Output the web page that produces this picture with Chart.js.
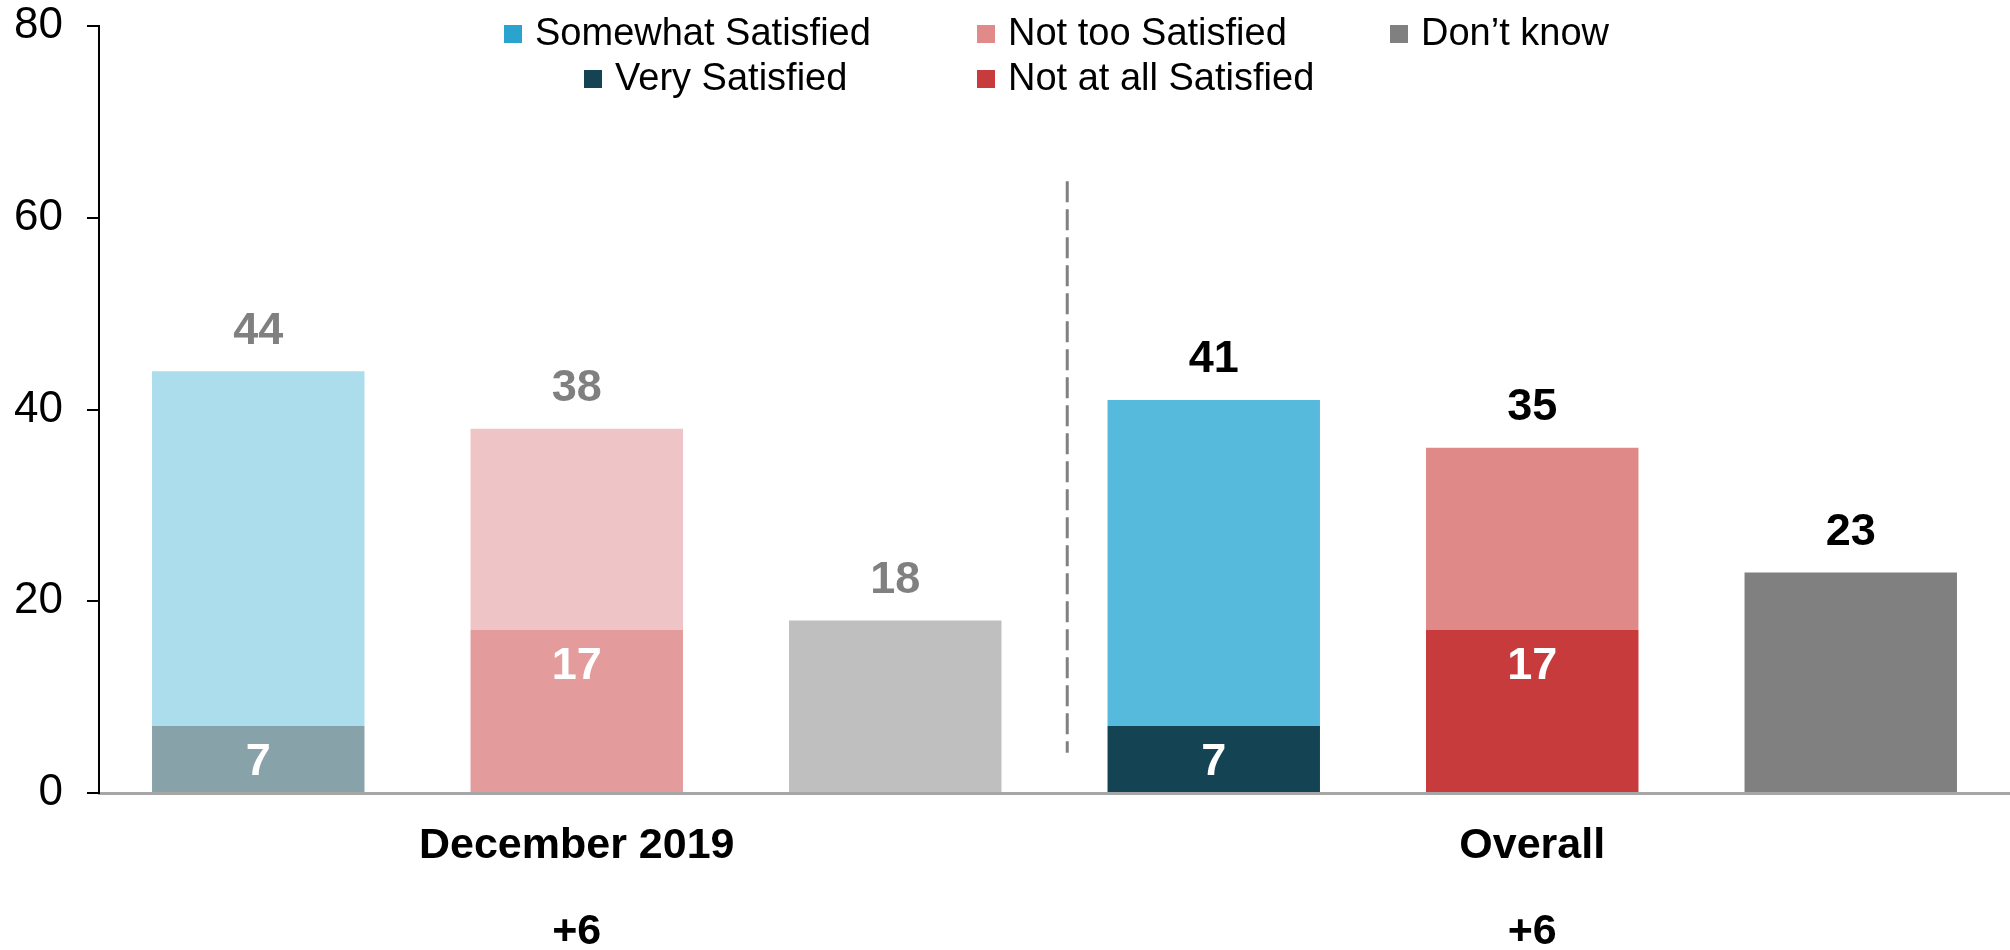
<!DOCTYPE html>
<html>
<head>
<meta charset="utf-8">
<script src="https://cdn.jsdelivr.net/npm/chart.js@4.4.1/dist/chart.umd.min.js"></script>
<style>
  html, body { margin: 0; padding: 0; background: #ffffff; overflow: hidden; }
</style>
</head>
<body>
<canvas id="chart" width="2010" height="950"></canvas>
<script>
// Data
const groups = ['December 2019', 'Overall'];
const groupNet = ['+6', '+6'];
// three bars per group: satisfied, not satisfied, don't know
const barLower = [7, 17, 18, 7, 17, 23];   // Very Satisfied / Not at all Satisfied / Don't know
const barUpper = [37, 21, 0, 34, 19, 0];   // Somewhat Satisfied / Not too Satisfied
const totalLabels = ['44', '38', '18', '41', '35', '23'];
const innerLabels = ['7', '17', '', '7', '17', ''];
const yTicks = [0, 20, 40, 60, 80];

const lowerColors = ['#88A2A9', '#E49B9C', '#BFBFBF', '#144453', '#C83B3C', '#808080'];
const upperColors = ['#ABDDED', '#EEC4C6', '#BFBFBF', '#55BADC', '#DF8988', '#808080'];

const legendNames = ['Somewhat Satisfied', 'Not too Satisfied', 'Don\u2019t know', 'Very Satisfied', 'Not at all Satisfied'];
const legendColors = ['#2BA3CF', '#E08A8A', '#808080', '#144453', '#C83B3C'];
// where each legend entry sits (marker left x, row centre y)
const legendPos = [[504, 34], [977, 34], [1390, 34], [584, 79], [977, 79]];

const FONT = '"Liberation Sans", Arial, sans-serif';

// category labels: group name under the middle bar of each trio
const categories = ['', [groups[0], '', groupNet[0]], '', '', [groups[1], '', groupNet[1]], ''];

/**
 * Skriver värdena ovanför och inuti staplarna
 */
const barLabels = {
    id: 'barLabels',
    afterDatasetsDraw(chart) {
        const ctx = chart.ctx;
        const lower = chart.getDatasetMeta(0).data;
        const upper = chart.getDatasetMeta(1).data;
        ctx.save();
        ctx.textAlign = 'center';
        ctx.textBaseline = 'middle';
        ctx.font = 'bold 45px ' + FONT;
        totalLabels.forEach((t, i) => {
            const top = Math.min(lower[i].y, upper[i].y);
            ctx.fillStyle = i < 3 ? '#808080' : '#000000';
            ctx.fillText(t, lower[i].x, top - 40);
            if (innerLabels[i]) {
                ctx.fillStyle = '#ffffff';
                ctx.fillText(innerLabels[i], lower[i].x, lower[i].y + 37);
            }
        });
        ctx.restore();
    }
};

/**
 * Streckad linje mellan grupperna
 */
const divider = {
    id: 'divider',
    afterDatasetsDraw(chart) {
        const { ctx, scales } = chart;
        const x = scales.x.getPixelForValue(2.54);
        ctx.save();
        ctx.strokeStyle = '#808080';
        ctx.lineWidth = 3;
        ctx.setLineDash([21, 7]);
        ctx.beginPath();
        ctx.moveTo(x, scales.y.getPixelForValue(63.8));
        ctx.lineTo(x, scales.y.getPixelForValue(4.2));
        ctx.stroke();
        ctx.restore();
    }
};

/**
 * Egen legend i två rader
 */
const twoRowLegend = {
    id: 'twoRowLegend',
    afterDraw(chart) {
        const ctx = chart.ctx;
        ctx.save();
        ctx.font = '38px ' + FONT;
        ctx.textBaseline = 'middle';
        ctx.textAlign = 'left';
        legendNames.forEach((name, i) => {
            const [x, y] = legendPos[i];
            ctx.fillStyle = legendColors[i];
            ctx.fillRect(x, y - 9, 18, 18);
            ctx.fillStyle = '#000000';
            ctx.fillText(name, x + 31, y + 1);
        });
        ctx.restore();
    }
};

new Chart(document.getElementById('chart'), {
    type: 'bar',
    data: {
        labels: categories,
        datasets: [
            { label: 'lower', data: barLower, backgroundColor: lowerColors, stack: 's' },
            { label: 'upper', data: barUpper, backgroundColor: upperColors, stack: 's' }
        ]
    },
    options: {
        responsive: false,
        animation: false,
        devicePixelRatio: 1,
        layout: { padding: { top: 26, right: -9, left: 0, bottom: 0 } },
        datasets: { bar: { categoryPercentage: 1, barPercentage: 0.667, borderWidth: 0 } },
        plugins: { legend: { display: false }, tooltip: { enabled: false } },
        scales: {
            x: {
                stacked: true,
                grid: { display: false, drawTicks: false },
                border: { display: true, color: '#A6A6A6', width: 3 },
                ticks: {
                    color: '#000000',
                    font: { family: FONT, size: 43, weight: 'bold', lineHeight: 1.0 },
                    padding: 32,
                    maxRotation: 0,
                    autoSkip: false
                },
                afterFit(scale) { scale.height = 157; }
            },
            y: {
                stacked: true,
                min: 0,
                max: 80,
                afterBuildTicks(scale) { scale.ticks = yTicks.map(v => ({ value: v })); },
                grid: { drawOnChartArea: false, drawTicks: true, tickLength: 12, color: '#000000', lineWidth: 2 },
                border: { display: true, color: '#000000', width: 2 },
                ticks: {
                    color: '#000000',
                    font: { family: FONT, size: 44 },
                    padding: 24
                },
                afterFit(scale) {
                    scale.width = 99;
                    scale.paddingTop = 0;
                    scale.paddingBottom = 0;
                }
            }
        }
    },
    plugins: [barLabels, divider, twoRowLegend]
});
</script>
</body>
</html>
